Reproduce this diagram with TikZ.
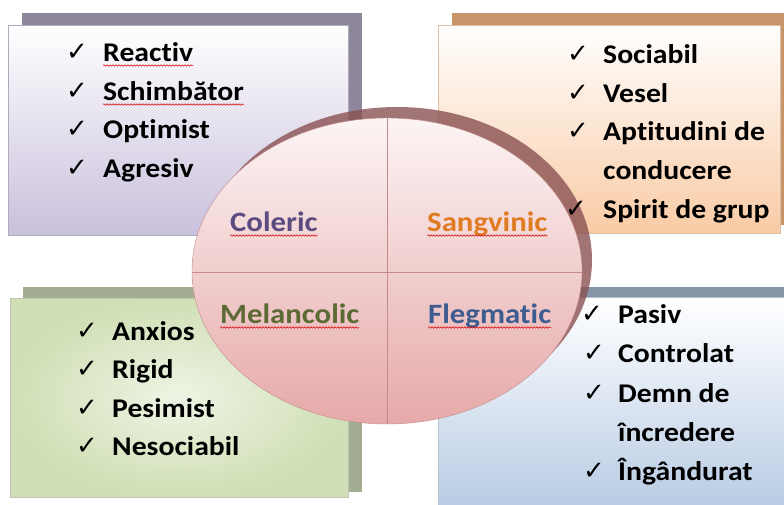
\documentclass[tikz,border=0pt]{standalone}
\usepackage{fontspec}
\setmainfont{Carlito}[FakeStretch=1.1, RawFeature={-liga}]
\newfontfamily\chkfont{DejaVu Sans}
\usetikzlibrary{decorations.pathmorphing}
\definecolor{tlshadow}{HTML}{8E879C}
\definecolor{tlbot}{HTML}{C9C0DC}
\definecolor{trshadow}{HTML}{C8956B}
\definecolor{trbot}{HTML}{F9CBA5}
\definecolor{blshadow}{HTML}{A3AD92}
\definecolor{blin}{HTML}{EEF4E4}
\definecolor{blout}{HTML}{D0DFB5}
\definecolor{brshadow}{HTML}{8795A8}
\definecolor{brbot}{HTML}{B6CAE3}
\definecolor{elltop}{HTML}{FCF4F4}
\definecolor{ellbot}{HTML}{E6A9A9}
\definecolor{ellrim}{HTML}{8A5252}
\definecolor{ellline}{HTML}{C48A8A}
\definecolor{cColeric}{HTML}{5B4B7F}
\definecolor{cSang}{HTML}{E07B24}
\definecolor{cMel}{HTML}{5C6B35}
\definecolor{cFleg}{HTML}{3D5C8F}
\tikzset{
  itm/.style={anchor=base west, inner sep=0pt, font=\fontsize{27}{32}\selectfont\bfseries, text=black},
  chk/.style={anchor=base west, inner sep=0pt, font=\chkfont\fontsize{26}{26}\selectfont, text=black},
  lab/.style={anchor=base west, inner sep=0pt, font=\fontsize{28}{32}\selectfont\bfseries},
  squig/.style={draw=red!85!black, line width=0.5pt, decorate, decoration={snake, amplitude=0.8pt, segment length=3pt}},
  boxline/.style={line width=0.4pt}
}
\begin{document}
\begin{tikzpicture}[x=1pt,y=-1pt]
\useasboundingbox (0,0) rectangle (784,504);
\begin{scope}
\clip (0,0) rectangle (784,504);
% boxes: shadows and main rectangles
\fill[tlshadow] (22,13) rectangle (362,225);
\shade[top color=white, bottom color=tlbot, draw=tlshadow!70, boxline] (8,25) rectangle (348,235);
\fill[trshadow] (452,13) rectangle (790,225);
\shade[top color=white, bottom color=trbot, draw=trshadow!60, boxline] (438,25) rectangle (780,233);
\fill[blshadow] (23,287) rectangle (362,492);
\shade[inner color=blin, outer color=blout, draw=blshadow!70, boxline] (10,298) rectangle (348,497);
\fill[brshadow] (452,287) rectangle (790,505);
\shade[top color=white, bottom color=brbot, draw=brshadow!60, boxline] (438,297) rectangle (790,515);
% ellipse
\fill[ellrim, opacity=0.8] (397,260) ellipse [x radius=195, y radius=153];
\shade[top color=elltop, bottom color=ellbot, draw=ellline] (387,271) ellipse [x radius=195, y radius=153];
\draw[ellline, line width=0.6pt] (387,118) -- (387,424);
\draw[ellline, line width=0.6pt] (192,272) -- (582,272);
\end{scope}
% center labels
\node[lab, text=cColeric] (col) at (230,231) {Coleric};
\node[lab, text=cSang] (san) at (427,231) {Sangvinic};
\node[lab, text=cMel] (mel) at (220,323) {Melancolic};
\node[lab, text=cFleg] (fle) at (428,323) {Flegmatic};
\foreach \n in {col,san,mel,fle}
  \draw[squig] ([yshift=-4.5pt]\n.base west) -- ([yshift=-4.5pt]\n.base east);
% top-left list
\node[chk] (c11) at (66,60) {✓};
\node[itm] (t11) at (103,61) {Reactiv};
\node[chk] (c12) at (66,99) {✓};
\node[itm] (t12) at (103,100) {Schimbător};
\node[chk] (c13) at (66,137) {✓};
\node[itm] (t13) at (103,138) {Optimist};
\node[chk] (c14) at (66,176) {✓};
\node[itm] (t14) at (103,177) {Agresiv};
\draw[squig] ([yshift=-4.5pt]t11.base west) -- ([yshift=-4.5pt]t11.base east);
\draw[squig] ([yshift=-4.5pt]t12.base west) -- ([yshift=-4.5pt]t12.base east);
% top-right list
\node[chk] (c21) at (567,62) {✓};
\node[itm] (t21) at (603,63) {Sociabil};
\node[chk] (c22) at (567,101) {✓};
\node[itm] (t22) at (603,102) {Vesel};
\node[chk] (c23) at (567,139) {✓};
\node[itm] (t23) at (603,140) {Aptitudini de};
\node[itm] (t24) at (603,179) {conducere};
\node[chk] (c25) at (565,217) {✓};
\node[itm] (t25) at (603,218) {Spirit de grup};
% bottom-left list
\node[chk] (c31) at (76,339) {✓};
\node[itm] (t31) at (112,340) {Anxios};
\node[chk] (c32) at (76,377) {✓};
\node[itm] (t32) at (112,378) {Rigid};
\node[chk] (c33) at (76,416) {✓};
\node[itm] (t33) at (112,417) {Pesimist};
\node[chk] (c34) at (76,454) {✓};
\node[itm] (t34) at (112,455) {Nesociabil};
% bottom-right list
\node[chk] (c41) at (581,322) {✓};
\node[itm] (t41) at (618,323) {Pasiv};
\node[chk] (c42) at (583,361) {✓};
\node[itm] (t42) at (618,362) {Controlat};
\node[chk] (c43) at (583,401) {✓};
\node[itm] (t43) at (618,402) {Demn de};
\node[itm] (t44) at (618,441) {încredere};
\node[chk] (c45) at (583,479) {✓};
\node[itm] (t45) at (618,480) {Îngândurat};
\end{tikzpicture}
\end{document}
